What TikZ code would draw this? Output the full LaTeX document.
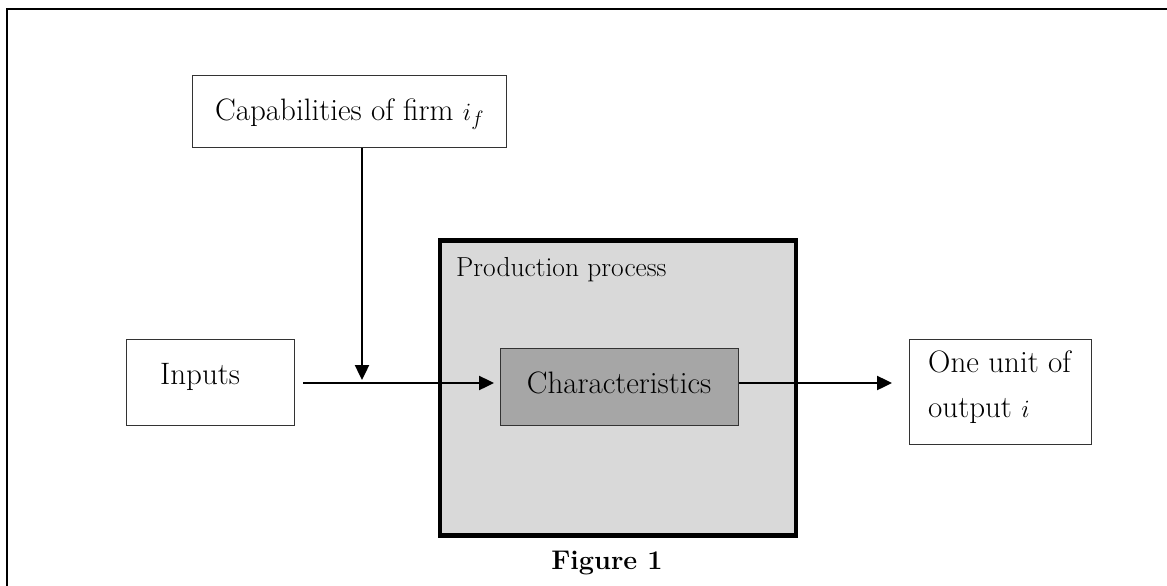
\documentclass[tikz,border=0pt]{standalone}
\usetikzlibrary{arrows.meta}
\begin{document}
\begin{tikzpicture}[x=1pt,y=-1pt,
  plainbox/.style={draw=black!80,line width=1pt,fill=white,inner sep=0pt},
  conn/.style={line width=2.4pt,-{Triangle[length=15pt,width=14pt]}},
  txt/.style={font=\fontsize{31}{36}\selectfont,inner sep=0pt}]
\useasboundingbox (0,0) rectangle (1167,586);
\draw[line width=2.6pt] (7,586) -- (7,9) -- (1167,9);
% boxes
\node[plainbox,minimum width=314pt,minimum height=72pt,anchor=north west] (cap) at (192,75) {};
\node[txt,anchor=base west] (captxt) at (215,120) {Capabilities of firm $i_f$};
\node[plainbox,minimum width=168pt,minimum height=86pt,anchor=north west] (inp) at (126,339) {};
\node[txt,anchor=base west] (inptxt) at (160,384) {Inputs};
\node[draw=black,line width=4.5pt,fill=black!15,minimum width=356pt,minimum height=295pt,anchor=north west,inner sep=0pt] (proc) at (437.5,238) {};
\node[font=\fontsize{27.5}{32}\selectfont,anchor=base west,inner sep=0pt] (proctxt) at (456,276) {Production process};
\node[draw=black!80,line width=1pt,fill=black!35,minimum width=238pt,minimum height=77pt,anchor=north west,inner sep=0pt] (char) at (500,348) {};
\node[txt,anchor=base] (chartxt) at (619,393) {Characteristics};
\node[plainbox,minimum width=182pt,minimum height=105pt,anchor=north west] (out) at (909,339) {};
\node[txt,anchor=base west] (o1) at (928,372) {One unit of};
\node[txt,anchor=base west] (o2) at (928,417) {output $i$};
\node[font=\bfseries\fontsize{27}{30}\selectfont,anchor=base,inner sep=0pt] (fig) at (607,569) {Figure 1};
% connectors
\coordinate (s) at (303,383);
\coordinate (j) at (362,380);
\coordinate (e) at (892,383);
\draw[conn] (s) -- ([xshift=-6pt]char.west |- s);
\draw[conn] (cap.south -| j) -- (j);
\draw[conn] (char.east |- e) -- (e);
\end{tikzpicture}
\end{document}
